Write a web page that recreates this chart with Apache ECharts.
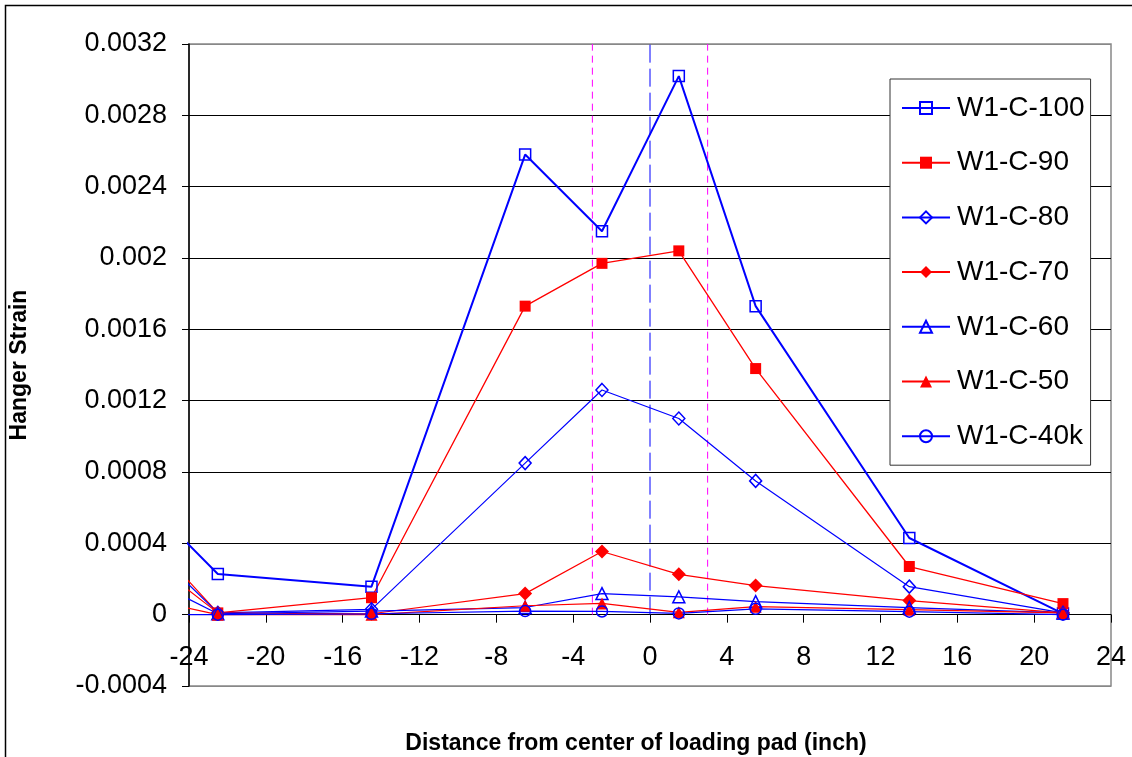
<!DOCTYPE html>
<html>
<head>
<meta charset="utf-8">
<title>Hanger Strain</title>
<script src="https://cdn.jsdelivr.net/npm/echarts@6/dist/echarts.min.js"></script>
<style>
    html, body { margin: 0; padding: 0; background: #fff; }
    #Echarts1 { width: 1132px; height: 757px; }
</style>
</head>
<body>
<div id="Echarts1"></div>
<script>
//==================== Hanger strain vs distance =====================//

/************** data **************************************/
// gauge positions, inch (first point lies outside the plotted range, line is clipped)
var xPos = [-30.5, -22.5, -14.5, -6.5, -2.5, 1.5, 5.5, 13.5, 21.5];

var w1c100 = [0.0011, 0.000228, 0.000157, 0.00258, 0.00215, 0.00302, 0.00173, 0.00043, 0.000006];
var w1c90 = [0.00095, 0.00001, 0.000095, 0.00173, 0.00197, 0.00204, 0.00138, 0.00027, 0.000062];
var w1c80 = [0.00085, 0.00001, 0.00003, 0.00085, 0.00126, 0.0011, 0.00075, 0.000157, 0.00001];
var w1c70 = [0.00068, 0.00001, 0.000005, 0.000118, 0.000354, 0.000226, 0.000163, 0.000079, 0.00001];
var w1c60 = [0.00044, 0.000005, 0.00002, 0.00004, 0.000118, 0.0001, 0.000073, 0.00004, 0.00001];
var w1c50 = [0.00019, 0, 0, 0.00005, 0.000063, 0.000013, 0.000045, 0.000028, 0.00001];
var w1c40k = [0, 0, 0.000005, 0.00002, 0.000018, 0.000007, 0.000033, 0.000017, 0];

// loading pad edges and center
var padEdges = [-3, 3];
var padCenter = 0;
var refSpan = [0, 0.0032];

var seriesNames = ['W1-C-100', 'W1-C-90', 'W1-C-80', 'W1-C-70', 'W1-C-60', 'W1-C-50', 'W1-C-40k'];

var BLUE = '#0000FF';
var RED = '#FF0000';
var FONT = 'Liberation Sans, Arial, Helvetica, sans-serif';

// plot box (px) and y range, used to put the x axis on the zero line
var GRID_TOP = 44, GRID_BOTTOM = 71, CHART_H = 757;
var Y_MIN = -0.0004, Y_MAX = 0.0032;

/*************** init *********************/
initEcharts1();

function pairs(xs, ys) {
    var out = [];
    for (var i = 0; i < xs.length; i++) {
        out.push([xs[i], ys[i]]);
    }
    return out;
}

function strainSeries(name, values, color, symbol, filled, size, width) {
    return {
        name: name,
        type: 'line',
        data: pairs(xPos, values),
        clip: true,
        symbol: symbol,
        symbolSize: size,
        showAllSymbol: true,
        lineStyle: { color: color, width: width },
        itemStyle: {
            color: filled ? color : 'rgba(255,255,255,0)',
            borderColor: color,
            borderWidth: filled ? 0 : 1.5
        },
        emphasis: { disabled: true },
        z: 3
    };
}

function refLine(x, color, dash) {
    return {
        type: 'line',
        data: [[x, refSpan[0]], [x, refSpan[1]]],
        symbol: 'none',
        silent: true,
        lineStyle: { color: color, width: 1, type: dash },
        z: 1
    };
}

function initEcharts1() {
    var myChart = echarts.init(document.getElementById('Echarts1'));

    // distance from bottom of plot box to the zero line
    var plotH = CHART_H - GRID_TOP - GRID_BOTTOM;
    var zeroOffset = plotH * (0 - Y_MIN) / (Y_MAX - Y_MIN);

    var series = [
        refLine(padEdges[0], '#FF00FF', [7, 5]),
        refLine(padEdges[1], '#FF00FF', [7, 5]),
        refLine(padCenter, BLUE, [18, 6]),
        strainSeries('W1-C-100', w1c100, BLUE, 'rect', false, 11, 2),
        strainSeries('W1-C-90', w1c90, RED, 'rect', true, 11, 1.3),
        strainSeries('W1-C-80', w1c80, BLUE, 'diamond', false, [12, 13], 1.2),
        strainSeries('W1-C-70', w1c70, RED, 'diamond', true, [14, 14], 1.2),
        strainSeries('W1-C-60', w1c60, BLUE, 'triangle', false, 12, 1.2),
        strainSeries('W1-C-50', w1c50, RED, 'triangle', true, 12, 1.2),
        strainSeries('W1-C-40k', w1c40k, BLUE, 'circle', false, 11, 1.2)
    ];

    var option = {
        animation: false,
        backgroundColor: '#fff',
        textStyle: { fontFamily: FONT },
        title: {
            text: 'Distance from center of loading pad (inch)',
            left: 631,
            top: 727,
            textAlign: 'center',
            textStyle: { fontFamily: FONT, fontSize: 23, fontWeight: 'bold', color: '#000' }
        },
        graphic: [{
            type: 'rect',
            shape: { x: 5.5, y: 5.5, width: 1200, height: 800 },
            style: { fill: 'none', stroke: '#000', lineWidth: 1.5 },
            silent: true
        }],
        legend: {
            data: seriesNames,
            orient: 'vertical',
            left: 890,
            top: 79,
            padding: [15, 6, 15, 11],
            itemGap: 26.7,
            itemWidth: 48,
            itemHeight: 15,
            backgroundColor: '#fff',
            borderColor: '#333',
            borderWidth: 1,
            textStyle: { fontFamily: FONT, fontSize: 28, color: '#000', padding: [0, 0, 0, 2] }
        },
        grid: {
            left: 185,
            right: 21,
            top: GRID_TOP,
            bottom: GRID_BOTTOM,
            show: true,
            borderColor: '#888',
            borderWidth: 1.5,
            backgroundColor: '#fff'
        },
        xAxis: {
            type: 'value',
            min: -24,
            max: 24,
            interval: 4,
            position: 'bottom',
            offset: -zeroOffset,
            axisLine: { onZero: false, lineStyle: { color: '#000', width: 1 } },
            axisTick: { show: true, length: 8, lineStyle: { color: '#000' } },
            axisLabel: { fontSize: 27, color: '#000', margin: 29, fontFamily: FONT },
            splitLine: { show: false }
        },
        yAxis: {
            type: 'value',
            min: Y_MIN,
            max: Y_MAX,
            interval: 0.0004,
            name: 'Hanger Strain',
            nameLocation: 'middle',
            nameRotate: 90,
            nameGap: 158,
            nameTextStyle: { fontFamily: FONT, fontSize: 23, fontWeight: 'bold', color: '#000' },
            axisLine: { show: true, onZero: false, lineStyle: { color: '#000', width: 1.5 } },
            axisTick: { show: true, length: 7, lineStyle: { color: '#000' } },
            axisLabel: {
                fontSize: 27,
                color: '#000',
                margin: 22,
                fontFamily: FONT,
                formatter: function (v) {
                    return String(+(+v).toFixed(4));
                }
            },
            splitLine: {
                show: true,
                lineStyle: {
                    color: ['#888', '#000', '#000', '#000', '#000', '#000', '#000', '#000', '#000', '#888'],
                    width: 1
                }
            }
        },
        series: series
    };

    myChart.setOption(option);
}
</script>
</body>
</html>
